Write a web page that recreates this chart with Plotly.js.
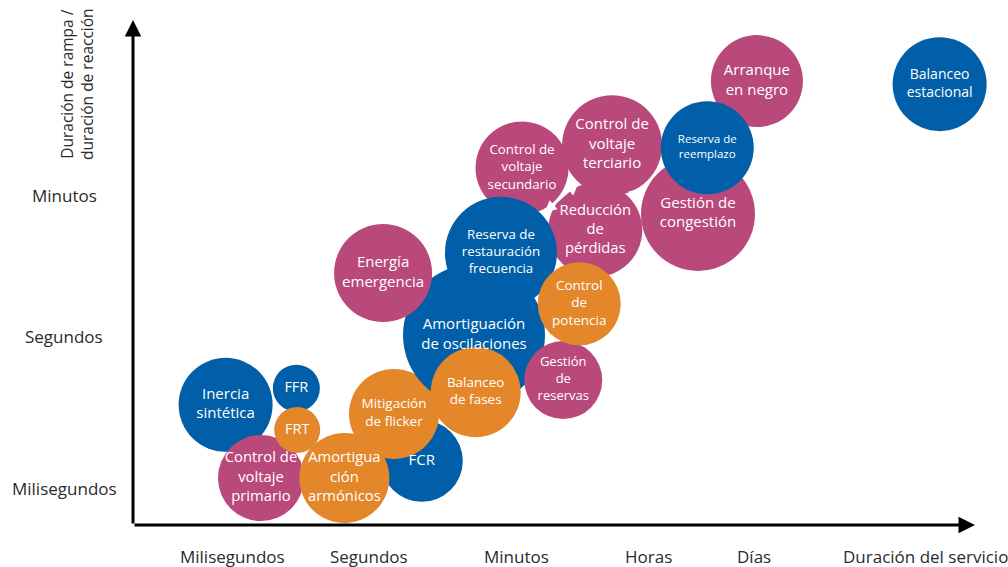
<!DOCTYPE html>
<html>
<head>
<meta charset="utf-8">
<script src="https://cdn.plot.ly/plotly-3.0.1.min.js"></script>
<style>html,body{margin:0;padding:0;background:#fff;}#chart{width:1008px;height:567px;}</style>
</head>
<body>
<div id="chart"></div>
<script>
// ---- Data (drawing order: back to front) ----
const services = [
  "Inercia<br>sintética",
  "FFR",
  "Control de<br>voltaje<br>primario",
  "FRT",
  "FCR",
  "Amortigua<br>ción<br>armónicos",
  "Mitigación<br>de flicker",
  "Control de<br>voltaje<br>secundario",
  "Reducción<br>de<br>pérdidas",
  "Amortiguación<br>de oscilaciones",
  "Reserva de<br>restauración<br>frecuencia",
  "Energía<br>emergencia",
  "Balanceo<br>de fases",
  "Gestión<br>de<br>reservas",
  "Control<br>de<br>potencia",
  "Control de<br>voltaje<br>terciario",
  "Gestión de<br>congestión",
  "Arranque<br>en negro",
  "Reserva de<br>reemplazo",
  "Balanceo<br>estacional"
];
// service duration (0-100 relative scale along horizontal axis)
const serviceDuration = [11.0, 19.4, 15.2, 19.5, 34.3, 25.1, 31.0, 46.2, 54.9, 40.5, 43.7, 29.7, 40.7, 51.1, 53.0, 56.9, 67.1, 74.1, 68.2, 95.8];
// ramp / response duration (0-100 relative scale along vertical axis)
const responseDuration = [23.8, 27.1, 9.3, 18.8, 12.7, 9.3, 22.0, 70.7, 58.4, 37.6, 53.9, 49.9, 26.3, 28.7, 43.8, 75.2, 61.6, 87.9, 74.7, 87.3];
// bubble magnitude
const magnitude = [94, 47, 86, 46, 82, 90, 90, 93, 94, 142, 112, 98, 90, 78, 83, 100, 114, 92, 93, 94];
// group: 0 = blue, 1 = pink, 2 = orange
const group = [0, 0, 1, 2, 0, 2, 2, 1, 1, 0, 0, 1, 2, 1, 2, 1, 1, 1, 0, 0];

const xTickLabels = ["Milisegundos", "Segundos", "Minutos", "Horas", "Días", "Duración del servicio"];
const xTickPos = [11.8, 28.0, 45.6, 61.2, 73.8, 94.1];
const yTickLabels = ["Minutos", "Segundos", "Milisegundos"];
const yTickPos = [65.2, 37.4, 7.3];

// ---- Styles ----
const palette = ["#005FA8", "#B9497B", "#E4872A"];
const labelSize = [15, 14.5, 14.8, 14.5, 15, 14.8, 13.5, 13.3, 14.8, 15, 13.3, 15, 13.5, 13, 13.5, 15, 15, 15, 11.5, 14];

const trace = {
  type: "scatter",
  mode: "markers+text",
  x: serviceDuration,
  y: responseDuration,
  text: services,
  textposition: "middle center",
  textfont: {family: "Open Sans, sans-serif", color: "#ffffff", size: labelSize},
  marker: {
    size: magnitude,
    sizemode: "diameter",
    sizeref: 1,
    color: group.map(g => palette[g]),
    opacity: 1,
    line: {color: "#ffffff", width: 0}
  },
  hoverinfo: "text",
  cliponaxis: false,
  showlegend: false
};

const annotations = [];
// axis arrows
annotations.push({x: 0, y: 100, ax: 0, ay: 0, xref: "x", yref: "y", axref: "x", ayref: "y",
  showarrow: true, arrowhead: 2, arrowsize: 1.1, arrowwidth: 3, arrowcolor: "#000", text: ""});
annotations.push({x: 100, y: 0, ax: 0, ay: 0, xref: "x", yref: "y", axref: "x", ayref: "y",
  showarrow: true, arrowhead: 2, arrowsize: 1.1, arrowwidth: 3, arrowcolor: "#000", text: ""});
// small white flow arrows
annotations.push({x: 52.9, y: 67.7, ax: 48.7, ay: 61.6, xref: "x", yref: "y", axref: "x", ayref: "y",
  showarrow: true, arrowhead: 2, startarrowhead: 2, arrowside: "end+start", arrowsize: 1.6, startarrowsize: 1.6,
  arrowwidth: 1.5, arrowcolor: "#fff", text: ""});
annotations.push({x: 60.9, y: 66.9, ax: 60.0, ay: 65.6, xref: "x", yref: "y", axref: "x", ayref: "y",
  showarrow: true, arrowhead: 2, arrowsize: 2.2, arrowwidth: 1.5, arrowcolor: "#fff", text: ""});

xTickLabels.forEach((t, i) => annotations.push({
  x: xTickPos[i], y: 0, xref: "x", yref: "paper", yshift: -31, text: t, showarrow: false,
  xanchor: "center", yanchor: "middle", font: {family: "Open Sans, sans-serif", size: 17, color: "#2b2b2b"}
}));
yTickLabels.forEach((t, i) => annotations.push({
  x: 64, xref: "paper", y: yTickPos[i], yref: "y", text: t, showarrow: false,
  xanchor: "center", yanchor: "middle", font: {family: "Open Sans, sans-serif", size: 17, color: "#2b2b2b"}
}));
// y axis title (rotated)
annotations.push({
  x: 77, xref: "paper", y: 84, yref: "paper", text: "Duración de rampa /<br>duración de reacción",
  showarrow: false, textangle: -90, xanchor: "center", yanchor: "middle",
  font: {family: "Open Sans, sans-serif", size: 15.5, color: "#2b2b2b"}
});

const layout = {
  width: 1008, height: 567,
  margin: {l: 133, r: 33, t: 20, b: 42},
  paper_bgcolor: "#fff", plot_bgcolor: "#fff",
  xaxis: {range: [0, 100], showgrid: false, zeroline: false, showticklabels: false, ticks: "",
          showline: false, fixedrange: true},
  yaxis: {range: [0, 100], showgrid: false, zeroline: false, showticklabels: false, ticks: "",
          showline: false, fixedrange: true},
  annotations: annotations,
  showlegend: false
};

// convert paper-pixel positions for annotations given in pixels
layout.annotations.forEach(a => {
  if (a.xref === "paper" && a.x > 1) {
    a.x = (a.x - 133) / (1008 - 133 - 33);
  }
  if (a.yref === "paper" && a.y > 1) {
    a.y = (567 - 42 - a.y) / (567 - 20 - 42);
  }
});

Plotly.newPlot("chart", [trace], layout, {displayModeBar: false, staticPlot: true});
</script>
</body>
</html>
